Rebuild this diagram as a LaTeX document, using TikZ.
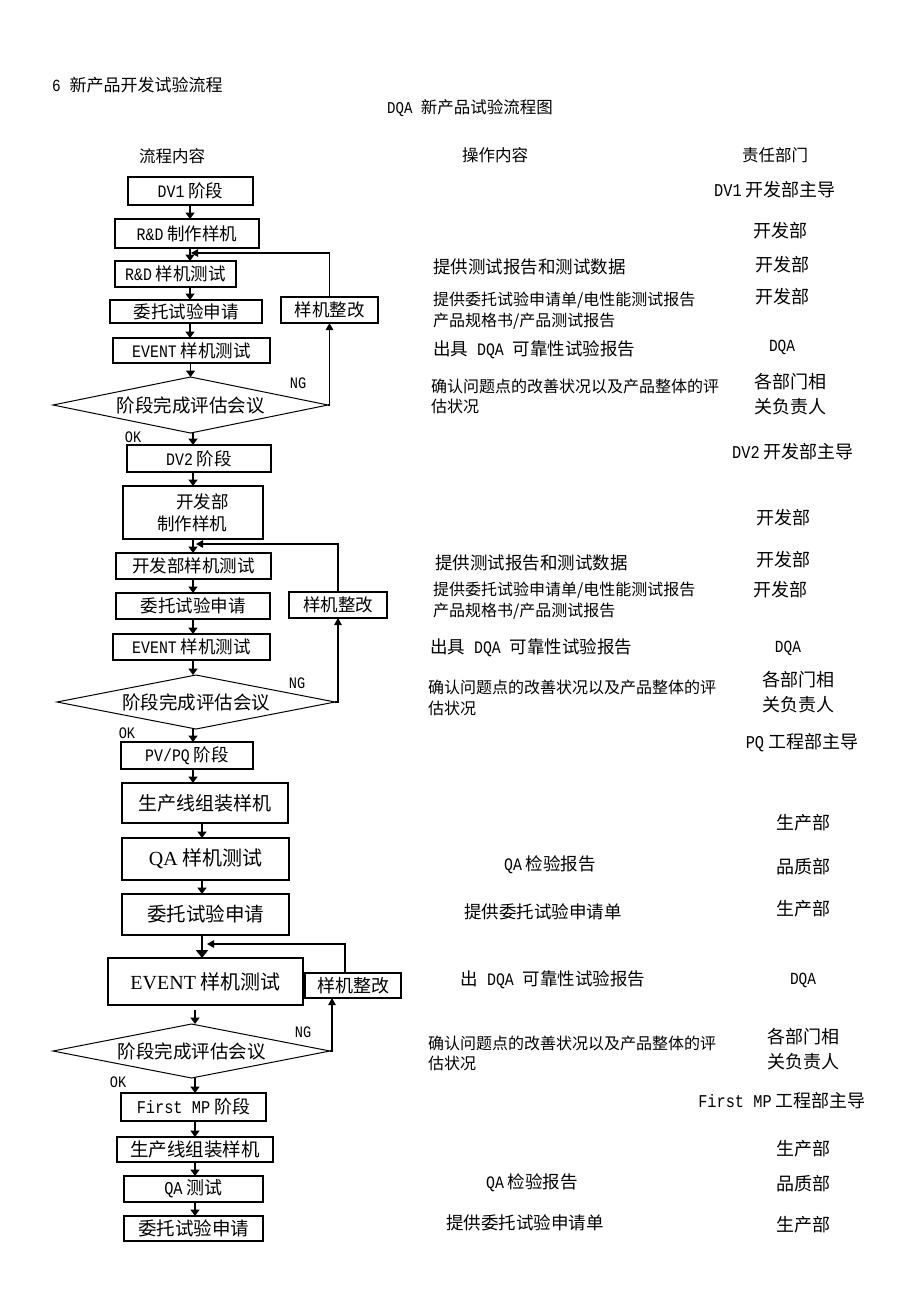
\documentclass[tikz,border=0pt]{standalone}
\usepackage{fontspec}
\setmainfont{Noto Sans CJK SC}
\newfontfamily\lt[FakeStretch=0.85]{Liberation Mono}
\newfontfamily\tm{Liberation Serif}
\usetikzlibrary{arrows.meta,shapes.geometric}
\newcommand{\fs}[2]{\fontsize{#1}{#2}\selectfont}
\begin{document}
\begin{tikzpicture}[x=1pt,y=-1pt,
  box/.style={draw,line width=1.1pt,inner sep=0pt,outer sep=0pt,align=center,font=\fs{17.5}{22}},
  bigbox/.style={box,font=\fs{19}{23}},
  dia/.style={draw,diamond,aspect=5,line width=1pt,inner sep=0pt,outer sep=0pt,font=\fs{18.5}{22}},
  arr/.style={line width=1.9pt,-{Triangle[width=9pt,length=6.5pt]}},
  thk/.style={line width=2.8pt,-{Triangle[width=12pt,length=8pt]}},
  fb/.style={line width=1.1pt,-{Triangle[width=7.5pt,length=7pt]}},
  op/.style={anchor=west,inner sep=0pt,align=left,font=\fs{17.5}{21}},
  ops/.style={anchor=west,inner sep=0pt,align=left,font=\fs{16}{21}},
  opc/.style={anchor=center,inner sep=0pt,font=\fs{17.5}{21}},
  dep/.style={anchor=center,inner sep=0pt,align=center,font=\fs{18}{25}},
  lbl/.style={inner sep=0pt,font=\lt\fs{16}{18}},
  hd/.style={inner sep=0pt,font=\fs{16.5}{20}}]
\useasboundingbox (0,0) rectangle (920,1302);
\fill[white] (0,0) rectangle (920,1302);

% headings
\node[hd,anchor=west,font=\fs{17}{20}] (title) at (52,85) {{\lt 6 }新产品开发试验流程};
\node[hd] (ttl2) at (470,108) {{\lt DQA }新产品试验流程图};
\node[hd] (h1) at (172,156) {流程内容};
\node[hd] (h2) at (495,155) {操作内容};
\node[hd] (h3) at (775,155) {责任部门};

% ---------- section 1 ----------
\coordinate (c1) at (190,0);
\node[box,minimum width=125,minimum height=28] (dv1) at (190.5,191) {{\lt DV1} 阶段};
\node[box,minimum width=144,minimum height=29] (rd1) at (187,233.5) {{\lt R\&D} 制作样机};
\node[box,minimum width=121,minimum height=26] (rdt1) at (175.5,274) {{\lt R\&D} 样机测试};
\node[box,minimum width=152,minimum height=23] (wt1) at (186,311.5) {委托试验申请};
\node[box,minimum width=157,minimum height=25] (ev1) at (191.5,350.5) {{\lt EVENT} 样机测试};
\node[box,minimum width=97,minimum height=26] (fix1) at (329.5,310) {样机整改};
\node[dia,minimum width=275,minimum height=56] (d1) at (190.5,405) {阶段完成评估会议};
\node[lbl] (ng1) at (298,383) {NG};
\node[lbl] (ok1) at (133,437) {OK};
\coordinate (fb1) at (191,253);

\draw[arr] (dv1.south -| c1) -- (rd1.north -| c1);
\draw[arr] (rd1.south -| c1) -- (rdt1.north -| c1);
\draw[arr] (rdt1.south -| c1) -- (wt1.north -| c1);
\draw[arr] (wt1.south -| c1) -- (ev1.north -| c1);
\draw[arr] (ev1.south -| d1.north) -- (d1.north);
\draw[fb] (d1.east) -| (fix1.south);
\draw[fb] (fix1.north) |- (fb1);

% ---------- section 2 ----------
\coordinate (c2) at (193,0);
\node[box,minimum width=144,minimum height=27] (dv2) at (199,458.5) {{\lt DV2} 阶段};
\node[box,minimum width=140,minimum height=53,align=left] (mk2) at (193,512.5) {\hspace*{1.1em}开发部\\制作样机};
\node[box,minimum width=155,minimum height=26] (dt2) at (193.5,566) {开发部样机测试};
\node[box,minimum width=154,minimum height=26] (wt2) at (193,606) {委托试验申请};
\node[box,minimum width=98,minimum height=26] (fix2) at (338,605) {样机整改};
\node[box,minimum width=157,minimum height=26] (ev2) at (191.5,647) {{\lt EVENT} 样机测试};
\node[dia,minimum width=278,minimum height=54] (d2) at (196,702) {阶段完成评估会议};
\node[lbl] (ng2) at (297,683) {NG};
\node[lbl] (ok2) at (127,733) {OK};
\node[box,minimum width=132,minimum height=27] (pv) at (187,755.5) {{\lt PV/PQ} 阶段};
\coordinate (fb2) at (196,544);

\draw[arr] (d1.south -| c2) -- (dv2.north -| c2);
\draw[arr] (dv2.south -| c2) -- (mk2.north -| c2);
\draw[arr] (mk2.south -| c2) -- (dt2.north -| c2);
\draw[arr] (dt2.south -| c2) -- (wt2.north -| c2);
\draw[arr] (wt2.south -| c2) -- (ev2.north -| c2);
\draw[arr] (ev2.south -| c2) -- (d2.north -| c2);
\draw[arr] (d2.south -| c2) -- (pv.north -| c2);
\draw[fb] (d2.east) -| (fix2.south);
\draw[fb] (fix2.north) |- (fb2);

% ---------- section 3 ----------
\coordinate (c3) at (202,0);
\coordinate (c4) at (195,0);
\coordinate (u3) at (332,0);
\coordinate (v3) at (345,0);
\node[bigbox,minimum width=166,minimum height=40] (sc3) at (205,803) {生产线组装样机};
\node[bigbox,minimum width=167,minimum height=42,font=\fs{20}{23}] (qa3) at (205.5,859) {{\tm QA} 样机测试};
\node[bigbox,minimum width=167,minimum height=41,font=\fs{19.5}{23}] (wt3) at (205.5,914.5) {委托试验申请};
\node[bigbox,minimum width=195,minimum height=47,font=\fs{20}{23}] (ev3) at (205.5,981.5) {{\tm EVENT} 样机测试};
\node[box,minimum width=96,minimum height=25,font=\fs{18}{22}] (fix3) at (353,985.5) {样机整改};
\node[dia,minimum width=277,minimum height=54] (d3) at (191.5,1051) {阶段完成评估会议};
\node[lbl] (ng3) at (303,1032) {NG};
\node[lbl] (ok3) at (118,1082) {OK};
\node[box,minimum width=145,minimum height=28,font=\fs{18}{22}] (fmp) at (193.5,1107) {{\lt First MP} 阶段};
\node[box,minimum width=156,minimum height=25,font=\fs{18.5}{22}] (sc4) at (195,1149.5) {生产线组装样机};
\node[box,minimum width=139,minimum height=26,font=\fs{18}{22}] (qa4) at (193.5,1189) {{\lt QA} 测试};
\node[box,minimum width=139,minimum height=25,font=\fs{18.5}{22}] (wt4) at (193.5,1228.5) {委托试验申请};
\coordinate (fb3) at (207,944);

\draw[arr] (pv.south -| c2) -- (sc3.north -| c2);
\draw[arr] (sc3.south -| c3) -- (qa3.north -| c3);
\draw[arr] (qa3.south -| c3) -- (wt3.north -| c3);
\draw[thk] (wt3.south -| c3) -- (ev3.north -| c3);
\draw[arr,shorten <=5pt] (ev3.south -| c4) -- (d3.north -| c4);
\draw[arr] (d3.south -| c4) -- (fmp.north -| c4);
\draw[arr] (fmp.south -| c4) -- (sc4.north -| c4);
\draw[arr] (sc4.south -| c4) -- (qa4.north -| c4);
\draw[arr] (qa4.south -| c4) -- (wt4.north -| c4);
\draw[fb] (d3.east) -| (fix3.south -| u3);
\draw[fb] (fix3.north -| v3) |- (fb3);

% ---------- operation column ----------
\node[op] (o1) at (433,267) {提供测试报告和测试数据};
\node[ops] (o2) at (433,310.5) {提供委托试验申请单/电性能测试报告\\产品规格书/产品测试报告};
\node[op] (o3) at (433,350) {出具{\lt{} DQA }可靠性试验报告};
\node[ops,font=\fs{16}{20}] (o4) at (431,396) {确认问题点的改善状况以及产品整体的评\\估状况};

\node[op] (o5) at (435,563) {提供测试报告和测试数据};
\node[ops] (o6) at (433,601) {提供委托试验申请单/电性能测试报告\\产品规格书/产品测试报告};
\node[op] (o7) at (430,648) {出具{\lt{} DQA }可靠性试验报告};
\node[ops,font=\fs{16}{21}] (o8) at (428,697.5) {确认问题点的改善状况以及产品整体的评\\估状况};

\node[opc] (o9) at (550,865) {{\lt QA} 检验报告};
\node[opc] (o10) at (543,912) {提供委托试验申请单};
\node[opc] (o11) at (553,980) {出{\lt{} DQA }可靠性试验报告};
\node[ops,font=\fs{16}{20}] (o12) at (428,1053) {确认问题点的改善状况以及产品整体的评\\估状况};
\node[opc] (o13) at (532,1183) {{\lt QA} 检验报告};
\node[opc] (o14) at (525,1223) {提供委托试验申请单};

% ---------- department column ----------
\node[dep] (r1) at (775,190) {{\lt DV1} 开发部主导};
\node[dep] (r2) at (780,231) {开发部};
\node[dep] (r3) at (782,265) {开发部};
\node[dep] (r4) at (782,297) {开发部};
\node[dep,font=\lt\fs{17}{20}] (r5) at (782,347) {DQA};
\node[dep] (r6) at (790,394.5) {各部门相\\关负责人};
\node[dep] (r7) at (793,452) {{\lt DV2} 开发部主导};
\node[dep] (r8) at (783,518) {开发部};
\node[dep] (r9) at (783,560) {开发部};
\node[dep] (r10) at (780,590) {开发部};
\node[dep,font=\lt\fs{17}{20}] (r11) at (788,648) {DQA};
\node[dep] (r12) at (798,692.5) {各部门相\\关负责人};
\node[dep] (r13) at (802,743) {{\lt PQ} 工程部主导};
\node[dep] (r14) at (803,823) {生产部};
\node[dep] (r15) at (803,867) {品质部};
\node[dep] (r16) at (803,909) {生产部};
\node[dep,font=\lt\fs{17}{20}] (r17) at (803,980) {DQA};
\node[dep] (r18) at (803,1049.5) {各部门相\\关负责人};
\node[dep] (r19) at (782,1101) {{\lt First MP} 工程部主导};
\node[dep] (r20) at (803,1149) {生产部};
\node[dep] (r21) at (803,1184) {品质部};
\node[dep] (r22) at (803,1225) {生产部};
\end{tikzpicture}
\end{document}
